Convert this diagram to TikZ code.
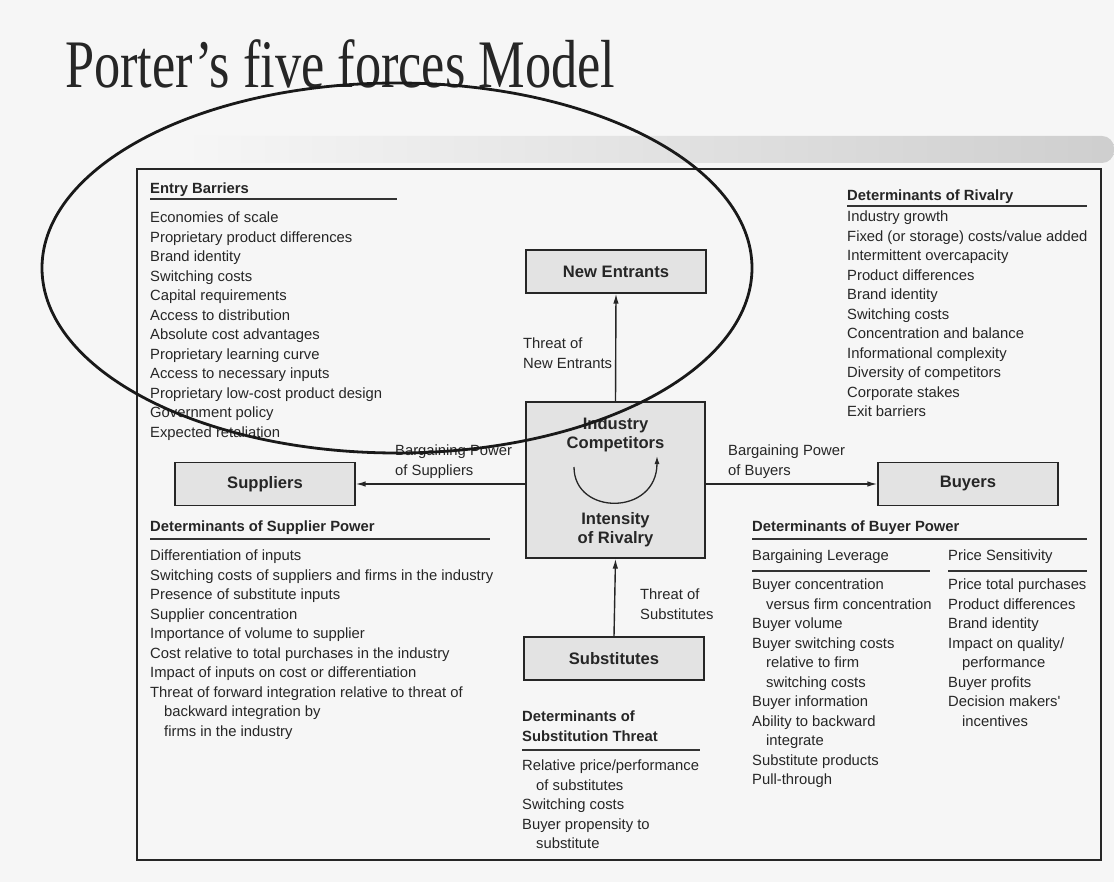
\documentclass[tikz,border=0pt]{standalone}
\usepackage{fontspec}
\usepackage{graphicx}
\setmainfont{Liberation Serif}
\newfontfamily\arialfont{Liberation Sans}
\usetikzlibrary{arrows.meta}
\newcommand{\bodyfont}{\arialfont\fontsize{14.8}{19.5}\selectfont}
\newcommand{\boxfont}{\arialfont\fontsize{16.6}{19}\selectfont\bfseries}
\newcommand{\indt}{\hspace*{14pt}}

\begin{document}
\begin{tikzpicture}[x=1pt, y=-1pt,
  every node/.style={inner sep=0pt, text=black!85},
  barbox/.style={draw=black!85, line width=1.3pt, fill=gray!22, minimum width=180pt, minimum height=43pt, font=\boxfont},
  txtlist/.style={anchor=north west, align=left, font=\bodyfont},
  txthead/.style={anchor=north west, align=left, font=\bodyfont\bfseries},
  hrule/.style={line width=1.1pt, draw=black!80},
  forcearrow/.style={line width=1.4pt, draw=black!85, -{Latex[length=10pt,width=5.5pt]}}]
  % page, scan shadow and frame
  \useasboundingbox[fill=gray!7] (0,0) rectangle (1114,882);
  \shade[left color=gray!7, right color=gray!38, rounded corners=12pt] (180,136) rectangle (1114,163);
  \draw[line width=1.5pt, draw=black!85] (137,169) rectangle (1101,860);
  \node[anchor=base west] (title) at (65,88) {\scalebox{0.77}[1]{\fontsize{68}{72}\selectfont Porter’s five forces Model}};

  % the five forces
  \node[barbox] (newent) at (616,271.5) {New Entrants};
  \node[barbox, minimum width=179pt, minimum height=156pt] (ind) at (615.5,480) {};
  \node[barbox] (sup) at (265,484) {Suppliers};
  \node[barbox] (buy) at (968,484) {Buyers};
  \node[barbox] (subst) at (614,658.5) {Substitutes};
  \node[font=\boxfont, align=center] (indtxt) at (615.5,435) {Industry\\Competitors};
  \node[font=\boxfont, align=center] (rivtxt) at (615.5,530) {Intensity\\of Rivalry};
  \coordinate (rivl) at (574,467);
  \coordinate (rivr) at (657,456);
  \draw[line width=1.3pt, draw=black!85, -{Latex[length=8pt,width=5pt]}] (rivl) .. controls (574,516) and (657,516) .. (rivr);

  \draw[forcearrow] (ind.north) -- (newent.south);
  \draw[forcearrow] (sup.east -| ind.west) -- (sup.east);
  \draw[forcearrow] (buy.west -| ind.east) -- (buy.west);
  \draw[forcearrow] (subst.north) -- (ind.south);

  \node[txtlist] (thrnew) at (523,335) {\strut Threat of\\New Entrants};
  \node[txtlist] (bpsup) at (395,442) {\strut Bargaining Power\\of Suppliers};
  \node[txtlist] (bpbuy) at (728,442) {\strut Bargaining Power\\of Buyers};
  \node[txtlist] (thrsub) at (640,586) {\strut Threat of\\Substitutes};

  % entry barriers
  \node[txthead] (ebhead) at (150,180) {\strut Entry Barriers};
  \draw[hrule] (150,199) -- (397,199);
  \node[txtlist] (eblist) at (150,209) {\strut Economies of scale\\Proprietary product differences\\Brand identity\\Switching costs\\Capital requirements\\Access to distribution\\Absolute cost advantages\\Proprietary learning curve\\Access to necessary inputs\\Proprietary low-cost product design\\Government policy\\Expected retaliation};

  % rivalry
  \node[txthead] (rivhead) at (847,187) {\strut Determinants of Rivalry};
  \draw[hrule] (847,206) -- (1087,206);
  \node[txtlist] (rivlist) at (847,208) {\strut Industry growth\\Fixed (or storage) costs/value added\\Intermittent overcapacity\\Product differences\\Brand identity\\Switching costs\\Concentration and balance\\Informational complexity\\Diversity of competitors\\Corporate stakes\\Exit barriers};

  % supplier power
  \node[txthead] (suphead) at (150,518) {\strut Determinants of Supplier Power};
  \draw[hrule] (150,539) -- (490,539);
  \node[txtlist] (suplist) at (150,547) {\strut Differentiation of inputs\\Switching costs of suppliers and firms in the industry\\Presence of substitute inputs\\Supplier concentration\\Importance of volume to supplier\\Cost relative to total purchases in the industry\\Impact of inputs on cost or differentiation\\Threat of forward integration relative to threat of\\\indt backward integration by\\\indt firms in the industry};

  % substitution threat
  \node[txthead] (subhead) at (522,708) {\strut Determinants of\\Substitution Threat};
  \draw[hrule] (522,750) -- (700,750);
  \node[txtlist] (sublist) at (522,757) {\strut Relative price/performance\\\indt of substitutes\\Switching costs\\Buyer propensity to\\\indt substitute};

  % buyer power
  \node[txthead] (buyhead) at (752,518) {\strut Determinants of Buyer Power};
  \draw[hrule] (752,539) -- (1087,539);
  \node[txtlist] (levhead) at (752,547) {\strut Bargaining Leverage};
  \draw[hrule] (752,571) -- (930,571);
  \node[txtlist] (senshead) at (948,547) {\strut Price Sensitivity};
  \draw[hrule] (948,571) -- (1087,571);
  \node[txtlist] (levlist) at (752,576) {\strut Buyer concentration\\\indt versus firm concentration\\Buyer volume\\Buyer switching costs\\\indt relative to firm\\\indt switching costs\\Buyer information\\Ability to backward\\\indt integrate\\Substitute products\\Pull-through};
  \node[txtlist] (senslist) at (948,576) {\strut Price total purchases\\Product differences\\Brand identity\\Impact on quality/\\\indt performance\\Buyer profits\\Decision makers'\\\indt incentives};

  % hand-drawn ring round the entry barriers
  \coordinate (ringc) at (397,268);
  \draw[line width=2.8pt, black!90] (ringc) ellipse [x radius=355, y radius=185];
\end{tikzpicture}
\end{document}
